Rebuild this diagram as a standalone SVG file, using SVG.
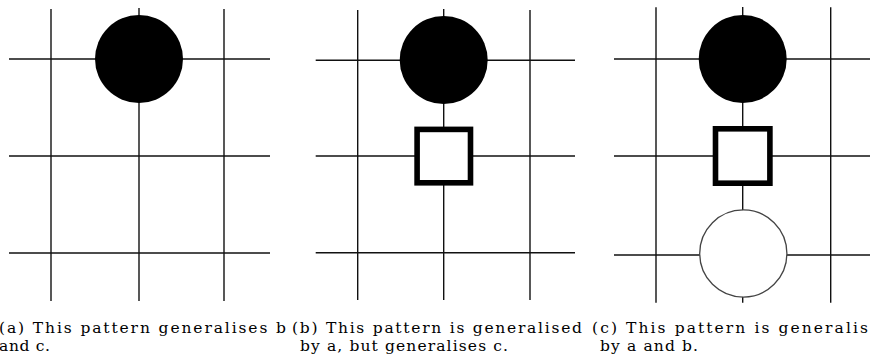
<svg xmlns="http://www.w3.org/2000/svg" width="870" height="356" viewBox="0 0 870 356">
<style>
.g{stroke:#111;stroke-width:1.4;fill:none}
.black{fill:#000;stroke:none}
.white{fill:#fff;stroke:#444;stroke-width:1.3}
.sq{fill:#fff;stroke:#000;stroke-width:5.6}
.cap{font-family:"DejaVu Serif","Liberation Serif",serif;font-size:15.5px;fill:#000}
</style>
<rect width="870" height="356" fill="#fff"/>
<g id="connectors">
<g id="grid-a" class="g">
<line x1="51" y1="9" x2="51" y2="301"/>
<line x1="139" y1="8" x2="139" y2="301"/>
<line x1="224" y1="9" x2="224" y2="301"/>
<line x1="9" y1="59" x2="270" y2="59"/>
<line x1="9" y1="156" x2="270" y2="156"/>
<line x1="9" y1="253" x2="270" y2="253"/>
</g>
<g id="grid-b" class="g">
<line x1="357.7" y1="10" x2="357.7" y2="300"/>
<line x1="443.7" y1="9" x2="443.7" y2="300"/>
<line x1="530" y1="10" x2="530" y2="300"/>
<line x1="315.7" y1="60.3" x2="575" y2="60.3"/>
<line x1="315.7" y1="156" x2="575" y2="156"/>
<line x1="315.7" y1="252.7" x2="575" y2="252.7"/>
</g>
<g id="grid-c" class="g">
<line x1="656" y1="7.3" x2="656" y2="302.7"/>
<line x1="742.7" y1="7" x2="742.7" y2="302.7"/>
<line x1="830.7" y1="7.3" x2="830.7" y2="302.7"/>
<line x1="614" y1="59" x2="870" y2="59"/>
<line x1="614" y1="156" x2="870" y2="156"/>
<line x1="614" y1="255" x2="870" y2="255"/>
</g>
</g>
<g id="a-black"><circle class="black" cx="139" cy="59" r="44"/></g>
<g id="b-black"><circle class="black" cx="443.7" cy="60" r="44"/></g>
<g id="b-square"><rect class="sq" x="417.1" y="129.4" width="53.4" height="53.4"/></g>
<g id="c-black"><circle class="black" cx="742.7" cy="59" r="44"/></g>
<g id="c-square"><rect class="sq" x="715.5" y="128.8" width="54.4" height="54.4"/></g>
<g id="c-white"><circle class="white" cx="743.3" cy="253.5" r="43.6"/></g>
<g id="captions" class="cap">
<text x="-1" y="333" textLength="287" lengthAdjust="spacing">(a) This pattern generalises b</text>
<text x="-1" y="351" textLength="51" lengthAdjust="spacing">and c.</text>
<text x="292" y="333" textLength="290" lengthAdjust="spacing">(b) This pattern is generalised</text>
<text x="300" y="351" textLength="208" lengthAdjust="spacing">by a, but generalises c.</text>
<text x="592" y="333" textLength="276" lengthAdjust="spacing">(c) This pattern is generalis</text>
<text x="600" y="351" textLength="98" lengthAdjust="spacing">by a and b.</text>
</g>
</svg>
